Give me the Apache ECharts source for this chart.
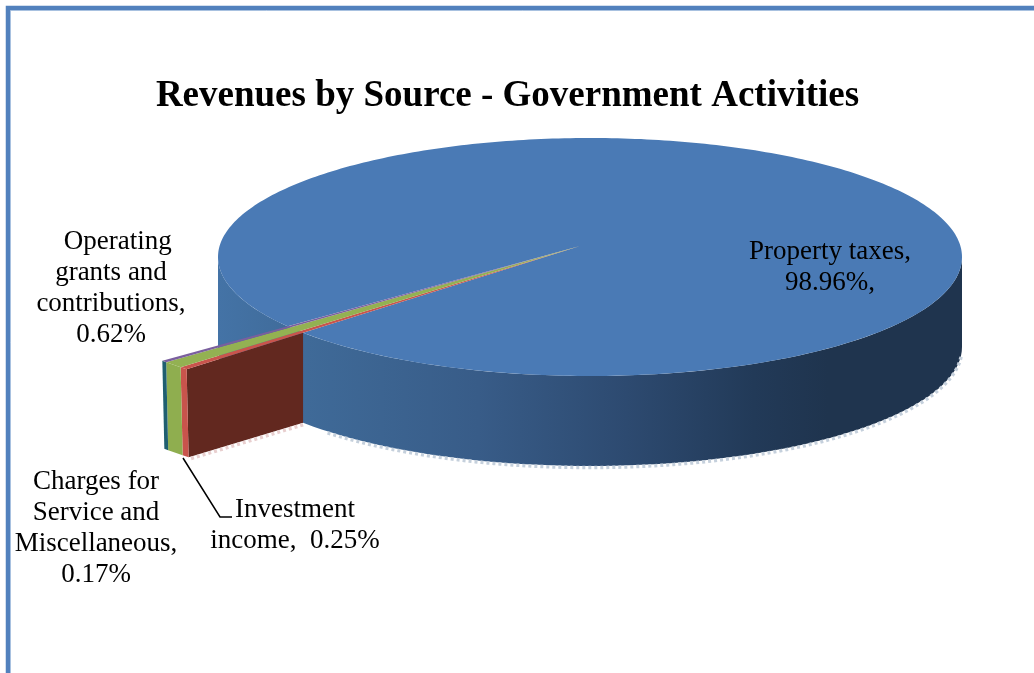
<!DOCTYPE html>
<html><head><meta charset="utf-8">
<style>html,body{margin:0;padding:0;background:#fff}#c{width:1034px;height:673px}</style>
<script src="https://cdn.jsdelivr.net/npm/echarts@6/dist/echarts.min.js"></script>
</head><body><div id="c"></div>
<script>
const categories = ['Property taxes', 'Investment income', 'Operating grants and contributions', 'Charges for Service and Miscellaneous'];
const values = [98.96, 0.25, 0.62, 0.17];
const valueLabels = ['98.96%', '0.25%', '0.62%', '0.17%'];
const topColors = ['#4A7AB5', '#C9544C', '#93B152', '#7A5F9E'];
const rimColors = ['#3F6A98', '#C9544C', '#8FAE4F', '#1F5F70'];

const C = {x: 590, y: 257, rx: 372, ry: 119, depth: 90};   // disc
const A = {x: 580, y: 246};                                 // slice apex
const startAngle = 135.6, outerK = 1.48, sliceDepth = 88;
const total = values.reduce((a, b) => a + b, 0);
const rad = d => d * Math.PI / 180;

function rayToRim(deg) {
  const dx = Math.cos(rad(deg)), dy = Math.sin(rad(deg));
  const ox = (A.x - C.x) / C.rx, oy = (A.y - C.y) / C.ry;
  const b = ox * dx + oy * dy, c = ox * ox + oy * oy - 1;
  const t = -b + Math.sqrt(b * b - c);
  return [A.x + t * dx * C.rx, A.y + t * dy * C.ry];
}
const outer = deg => [A.x + outerK * Math.cos(rad(deg)) * C.rx, A.y + outerK * Math.sin(rad(deg)) * C.ry];
const rim = (deg, dy) => [C.x + C.rx * Math.cos(rad(deg)), C.y + C.ry * Math.sin(rad(deg)) + (dy || 0)];
const poly = (points, fill, z) => ({type: 'polygon', z2: z || 0, shape: {points}, style: {fill}});
const dashed = (points, stroke, w, z) => ({type: 'polyline', z2: z || 0, shape: {points}, style: {stroke, lineWidth: w, lineDash: [3, 3], fill: null}});

const spans = [];
(function () {
  let a = startAngle;
  for (let i = 1; i < values.length; i++) {
    const s = values[i] / total * 360;
    spans[i] = [a, a + s];
    a += s;
  }
  spans[0] = [a, startAngle + 360];
})();

function renderItem(params, api) {
  const i = params.dataIndex, [a0, a1] = spans[i], kids = [];
  if (i === 0) {
    const top = [], wall = [], bot = [];
    for (let d = 0; d <= 180; d += 2) { wall.push(rim(d)); bot.unshift(rim(d, C.depth)); }
    kids.push({type: 'polygon', shape: {points: wall.concat(bot)}, style: {
      fill: new echarts.graphic.LinearGradient(218, 0, 962, 0, [
        {offset: 0, color: '#4473A6'}, {offset: 0.12, color: '#3F6A98'},
        {offset: 0.35, color: '#385C88'}, {offset: 0.55, color: '#2D4A70'},
        {offset: 0.72, color: '#223A58'}, {offset: 0.82, color: '#1F344E'}, {offset: 1, color: '#1F344E'}
      ], true)
    }});
    const fringe = [];
    for (let d = 4; d <= 135; d += 1) fringe.push(rim(d, C.depth + 1.5));
    kids.push(dashed(fringe, '#C5D0DC', 3.5));
    top.push([A.x, A.y]);
    for (let d = a0; d <= a1; d += 1) top.push(rayToRim(d));
    top.push(rayToRim(a1));
    kids.push(poly(top, topColors[0], 1));
  } else {
    const o0 = outer(a0), o1 = outer(a1);
    const down = p => [p[0] + 2, p[1] + sliceDepth];
    if (i === 1) {
      const r = rayToRim(a0);
      kids.push(poly([o0, r, [r[0], r[1] + C.depth], down(o0)], '#62281F', 2));
      kids.push(dashed([[r[0], r[1] + C.depth + 2], [o0[0] + 2, o0[1] + sliceDepth + 2]], '#E8CFCF', 3.5, 2));
    }
    kids.push(poly([o0, o1, down(o1), down(o0)], rimColors[i], 3));
    kids.push(poly([[A.x, A.y], o0, o1], topColors[i], 4));
  }
  return {type: 'group', children: kids};
}

const serif = '"Liberation Serif","Times New Roman",serif';
const labelStyle = (x, y, text) => ({
  type: 'text', x, y, z: 10,
  style: {text, fill: '#000', font: '27px ' + serif, align: 'center', verticalAlign: 'top', lineHeight: 31, textAlign: 'center'}
});

const chart = echarts.init(document.getElementById('c'), null, {renderer: 'canvas'});
chart.setOption({
  animation: false,
  backgroundColor: '#fff',
  title: {
    text: 'Revenues by Source - Government Activities',
    left: 502.5, top: 73, textAlign: 'center',
    textStyle: {fontFamily: serif, fontWeight: 'bold', fontSize: 37, color: '#000'}
  },
  graphic: [
    {type: 'rect', z: 0, shape: {x: 10.5, y: 10.5, width: 1200, height: 900}, style: {fill: 'none', stroke: '#C6D7EC', lineWidth: 1}},
    {type: 'rect', z: 1, shape: {x: 8, y: 8, width: 1200, height: 900}, style: {fill: 'none', stroke: '#5281BD', lineWidth: 4.5}},
    labelStyle(111, 226, '\u00a0\u00a0Operating\ngrants and\ncontributions,\n' + valueLabels[2]),
    labelStyle(830, 236, 'Property taxes,\n' + valueLabels[0] + ','),
    labelStyle(96, 466, 'Charges for\nService and\nMiscellaneous,\n' + valueLabels[3]),
    labelStyle(295, 494, 'Investment\nincome,  ' + valueLabels[1]),
    {type: 'polyline', z: 9, shape: {points: [[183, 458], [220, 517], [232, 517]]}, style: {stroke: '#000', lineWidth: 1.5, fill: null}}
  ],
  series: [{
    type: 'custom',
    name: 'Revenues by Source',
    coordinateSystem: 'none',
    silent: true,
    renderItem,
    data: values.map((v, i) => ({name: categories[i], value: v}))
  }]
});
</script></body></html>
